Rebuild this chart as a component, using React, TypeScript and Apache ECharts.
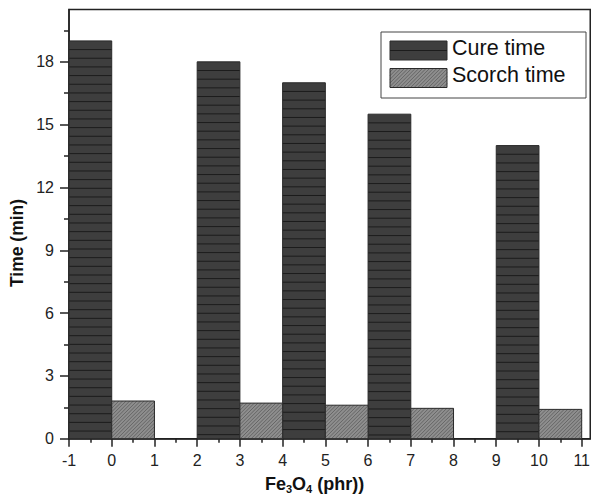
import React, { useEffect, useRef } from "react";
import * as echarts from "echarts";

const groups = [0, 3, 5, 7, 10];
const cureTime = [19, 18, 17, 15.5, 14];
const scorchTime = [1.8, 1.7, 1.6, 1.45, 1.4];
const xTicks = [-1, 0, 1, 2, 3, 4, 5, 6, 7, 8, 9, 10, 11];
const xMinorTicks = [-0.5, 0.5, 1.5, 2.5, 3.5, 4.5, 5.5, 6.5, 7.5, 8.5, 9.5, 10.5];
const yTicks = [0, 3, 6, 9, 12, 15, 18];
const yMinorTicks = [1.5, 4.5, 7.5, 10.5, 13.5, 16.5, 19.5];
const seriesNames = ["Cure time", "Scorch time"];

const FONT = "'Liberation Sans', Arial, sans-serif";
const AXIS_COLOR = "#222";
const CURE_FILL = "#3e3e3e";
const CURE_LINE = "#1c1c1c";
const SCORCH_FILL = "#8e8e8e";
const SCORCH_LINE = "#5a5a5a";

function horizontalLines(x0: number, y0: number, w: number, h: number, spacing: number) {
  const out: any[] = [];
  for (let y = y0 + spacing; y < y0 + h - 1; y += spacing) {
    out.push({
      type: "line",
      shape: { x1: x0, y1: y, x2: x0 + w, y2: y },
      style: { stroke: CURE_LINE, lineWidth: 1 },
      silent: true,
    });
  }
  return out;
}

function hatchLines(x0: number, y0: number, w: number, h: number, spacing: number) {
  const out: any[] = [];
  const yb = y0 + h;
  for (let c = -h; c < w; c += spacing) {
    const t0 = Math.max(0, -c);
    const t1 = Math.min(h, w - c);
    if (t1 <= t0) continue;
    out.push({
      type: "line",
      shape: { x1: x0 + c + t0, y1: yb - t0, x2: x0 + c + t1, y2: yb - t1 },
      style: { stroke: SCORCH_LINE, lineWidth: 0.8 },
      silent: true,
    });
  }
  return out;
}

function barItem(kind: "cure" | "scorch") {
  return (params: any, api: any) => {
    const x = api.value(0);
    const v = api.value(1);
    const left = kind === "cure" ? x - 1 : x;
    const p0 = api.coord([left, v]);
    const p1 = api.coord([left + 1, 0]);
    const x0 = p0[0];
    const y0 = p0[1];
    const w = p1[0] - p0[0];
    const h = p1[1] - p0[1];
    const children: any[] = [
      {
        type: "rect",
        shape: { x: x0, y: y0, width: w, height: h },
        style: { fill: kind === "cure" ? CURE_FILL : SCORCH_FILL, stroke: "none" },
      },
    ];
    if (kind === "cure") children.push(...horizontalLines(x0, y0, w, h, 8.67));
    else children.push(...hatchLines(x0, y0, w, h, 3.6));
    children.push({
      type: "rect",
      shape: { x: x0, y: y0, width: w, height: h },
      style: { fill: "none", stroke: "#2a2a2a", lineWidth: 1 },
    });
    return { type: "group", children };
  };
}

export default function App() {
  const ref = useRef<HTMLDivElement>(null);

  useEffect(() => {
    document.body.style.margin = "0";
    const chart = echarts.init(ref.current!, null, { renderer: "svg" });

    const tickStyle = { color: AXIS_COLOR, width: 1.5 };

    const legendX = 381;
    const legendY = 32;
    const sw = { x: 390, w: 57, h: 19 };

    const option: any = {
      animation: false,
      backgroundColor: "#fff",
      grid: {
        left: 69,
        right: -2,
        top: 9.5,
        bottom: 57.3,
        show: true,
        borderColor: AXIS_COLOR,
        borderWidth: 1.5,
        backgroundColor: "transparent",
      },
      xAxis: [
        {
          type: "value",
          min: -1,
          max: 11.2,
          position: "bottom",
          axisLine: { show: true, onZero: false, lineStyle: tickStyle },
          axisTick: { show: true, inside: false, length: 8, customValues: xTicks, lineStyle: tickStyle },
          axisLabel: {
            customValues: xTicks,
            margin: 14,
            fontSize: 16,
            color: AXIS_COLOR,
            fontFamily: FONT,
          },
          splitLine: { show: false },
        },
        {
          type: "value",
          min: -1,
          max: 11.2,
          position: "bottom",
          axisLine: { show: false, onZero: false },
          axisTick: { show: true, inside: false, length: 4, customValues: xMinorTicks, lineStyle: tickStyle },
          axisLabel: { show: false },
          splitLine: { show: false },
        },
      ],
      yAxis: [
        {
          type: "value",
          min: 0,
          max: 20.5,
          position: "left",
          axisLine: { show: true, onZero: false, lineStyle: tickStyle },
          axisTick: { show: true, inside: false, length: 9, customValues: yTicks, lineStyle: tickStyle },
          axisLabel: {
            customValues: yTicks,
            margin: 15,
            fontSize: 16,
            color: AXIS_COLOR,
            fontFamily: FONT,
          },
          splitLine: { show: false },
        },
        {
          type: "value",
          min: 0,
          max: 20.5,
          position: "left",
          axisLine: { show: false, onZero: false },
          axisTick: { show: true, inside: false, length: 5, customValues: yMinorTicks, lineStyle: tickStyle },
          axisLabel: { show: false },
          splitLine: { show: false },
        },
      ],
      series: [
        {
          name: seriesNames[0],
          type: "custom",
          xAxisIndex: 0,
          yAxisIndex: 0,
          renderItem: barItem("cure"),
          encode: { x: 0, y: 1 },
          data: groups.map((g, i) => [g, cureTime[i]]),
          clip: false,
        },
        {
          name: seriesNames[1],
          type: "custom",
          xAxisIndex: 0,
          yAxisIndex: 0,
          renderItem: barItem("scorch"),
          encode: { x: 0, y: 1 },
          data: groups.map((g, i) => [g, scorchTime[i]]),
          clip: false,
        },
      ],
      graphic: [
        {
          type: "text",
          x: 17,
          y: 243,
          rotation: Math.PI / 2,
          style: {
            text: "Time (min)",
            fontFamily: FONT,
            fontWeight: "bold",
            fontSize: 17.5,
            fill: "#111",
            align: "center",
            verticalAlign: "middle",
          },
        },
        {
          type: "text",
          x: 314.5,
          y: 473,
          style: {
            text: "{b|Fe}{s|3}{b|O}{s|4}{b| (phr))}",
            align: "center",
            verticalAlign: "top",
            rich: {
              b: { fontFamily: FONT, fontWeight: "bold", fontSize: 18, lineHeight: 21, fill: "#111" },
              s: {
                fontFamily: FONT,
                fontWeight: "bold",
                fontSize: 11,
                lineHeight: 4,
                verticalAlign: "bottom",
                fill: "#111",
              },
            },
          },
        },
        {
          type: "group",
          children: [
            {
              type: "rect",
              shape: { x: legendX, y: legendY, width: 205, height: 66 },
              style: { fill: "#fff", stroke: "#444", lineWidth: 1 },
            },
            {
              type: "rect",
              shape: { x: sw.x, y: 41, width: sw.w, height: sw.h },
              style: { fill: CURE_FILL, stroke: "#2a2a2a", lineWidth: 1 },
            },
            ...horizontalLines(sw.x, 41, sw.w, sw.h, 9.5),
            {
              type: "rect",
              shape: { x: sw.x, y: 68.5, width: sw.w, height: sw.h },
              style: { fill: SCORCH_FILL, stroke: "none" },
            },
            ...hatchLines(sw.x, 68.5, sw.w, sw.h, 3.6),
            {
              type: "rect",
              shape: { x: sw.x, y: 68.5, width: sw.w, height: sw.h },
              style: { fill: "none", stroke: "#2a2a2a", lineWidth: 1 },
            },
            {
              type: "text",
              x: 452,
              y: 48,
              style: {
                text: seriesNames[0],
                fontFamily: FONT,
                fontSize: 21.5,
                fill: "#111",
                verticalAlign: "middle",
              },
            },
            {
              type: "text",
              x: 452,
              y: 74.5,
              style: {
                text: seriesNames[1],
                fontFamily: FONT,
                fontSize: 21.5,
                fill: "#111",
                verticalAlign: "middle",
              },
            },
          ],
        },
      ],
    };

    chart.setOption(option);
    return () => chart.dispose();
  }, []);

  return <div ref={ref} style={{ width: 593, height: 496 }} />;
}
